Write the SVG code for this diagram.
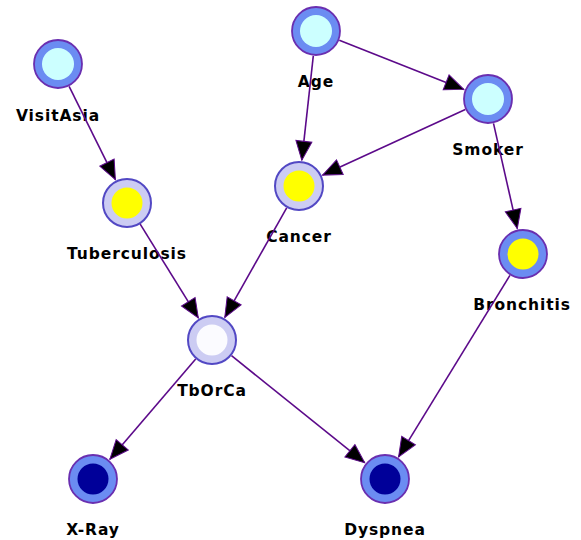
<svg xmlns="http://www.w3.org/2000/svg" width="581" height="540" viewBox="0 0 581 540">
<style>
.ring{fill:#6b8cf2;stroke:#6a2fb0;stroke-width:1.8}
.ringl{fill:#ccccf3;stroke:#5248c4;stroke-width:2}
.cyan{fill:#ccffff}
.yel{fill:#ffff00}
.navy{fill:#000099}
.wht{fill:#fbfbff}
.lbl{font-family:"DejaVu Sans",sans-serif;font-weight:bold;font-size:15.5px;letter-spacing:0.9px;fill:#000;text-anchor:middle}
.edge{stroke:#5c0a8a;stroke-width:1.6;fill:none;marker-end:url(#arr)}
</style>
<defs>
<marker id="arr" markerUnits="userSpaceOnUse" markerWidth="24" markerHeight="20" refX="20" refY="9" orient="auto" viewBox="0 0 24 20">
<path d="M1,1 L20,9 L1,17 z" fill="#000" stroke="#5c0a8a" stroke-width="1"/>
</marker>
</defs>
<rect width="581" height="540" fill="#fff"/>
<g id="VisitAsia"><circle class="ring" cx="58" cy="64" r="24"/><circle class="cyan" cx="58" cy="64" r="16"/><text class="lbl" x="58" y="121">VisitAsia</text></g>
<g id="Age"><circle class="ring" cx="316" cy="31" r="24"/><circle class="cyan" cx="316" cy="31" r="16"/><text class="lbl" x="316" y="87">Age</text></g>
<g id="Smoker"><circle class="ring" cx="488" cy="99" r="24"/><circle class="cyan" cx="488" cy="99" r="16"/><text class="lbl" x="488" y="155">Smoker</text></g>
<g id="Tuberculosis"><circle class="ringl" cx="127" cy="203" r="24"/><circle class="yel" cx="127" cy="203" r="15.5"/><text class="lbl" x="127" y="259">Tuberculosis</text></g>
<g id="Cancer"><circle class="ringl" cx="299" cy="186" r="24"/><circle class="yel" cx="299" cy="186" r="15.5"/><text class="lbl" x="299" y="242">Cancer</text></g>
<g id="Bronchitis"><circle class="ring" cx="523" cy="254" r="24"/><circle class="yel" cx="523" cy="254" r="15.5"/><text class="lbl" x="522" y="310">Bronchitis</text></g>
<g id="TbOrCa"><circle class="ringl" cx="212" cy="340" r="24"/><circle class="wht" cx="212" cy="340" r="15.5"/><text class="lbl" x="212" y="396">TbOrCa</text></g>
<g id="X-Ray"><circle class="ring" cx="93" cy="479" r="24"/><circle class="navy" cx="93" cy="479" r="15.5"/><text class="lbl" x="93" y="535">X-Ray</text></g>
<g id="Dyspnea"><circle class="ring" cx="385" cy="479" r="24"/><circle class="navy" cx="385" cy="479" r="15.5"/><text class="lbl" x="385" y="535">Dyspnea</text></g>
<g id="connectors">
<line class="edge" x1="69.1" y1="86.4" x2="115.4" y2="179.7"/>
<line class="edge" x1="313.3" y1="55.9" x2="301.8" y2="160.2"/>
<line class="edge" x1="339.3" y1="40.2" x2="463.8" y2="89.4"/>
<line class="edge" x1="465.3" y1="109.5" x2="322.6" y2="175.1"/>
<line class="edge" x1="493.5" y1="123.4" x2="517.3" y2="228.6"/>
<line class="edge" x1="140.2" y1="224.2" x2="198.3" y2="317.9"/>
<line class="edge" x1="286.7" y1="207.8" x2="224.8" y2="317.4"/>
<line class="edge" x1="195.7" y1="359" x2="109.9" y2="459.3"/>
<line class="edge" x1="231.5" y1="355.7" x2="364.7" y2="462.7"/>
<line class="edge" x1="509.9" y1="275.3" x2="398.6" y2="456.8"/>
</g>
</svg>
